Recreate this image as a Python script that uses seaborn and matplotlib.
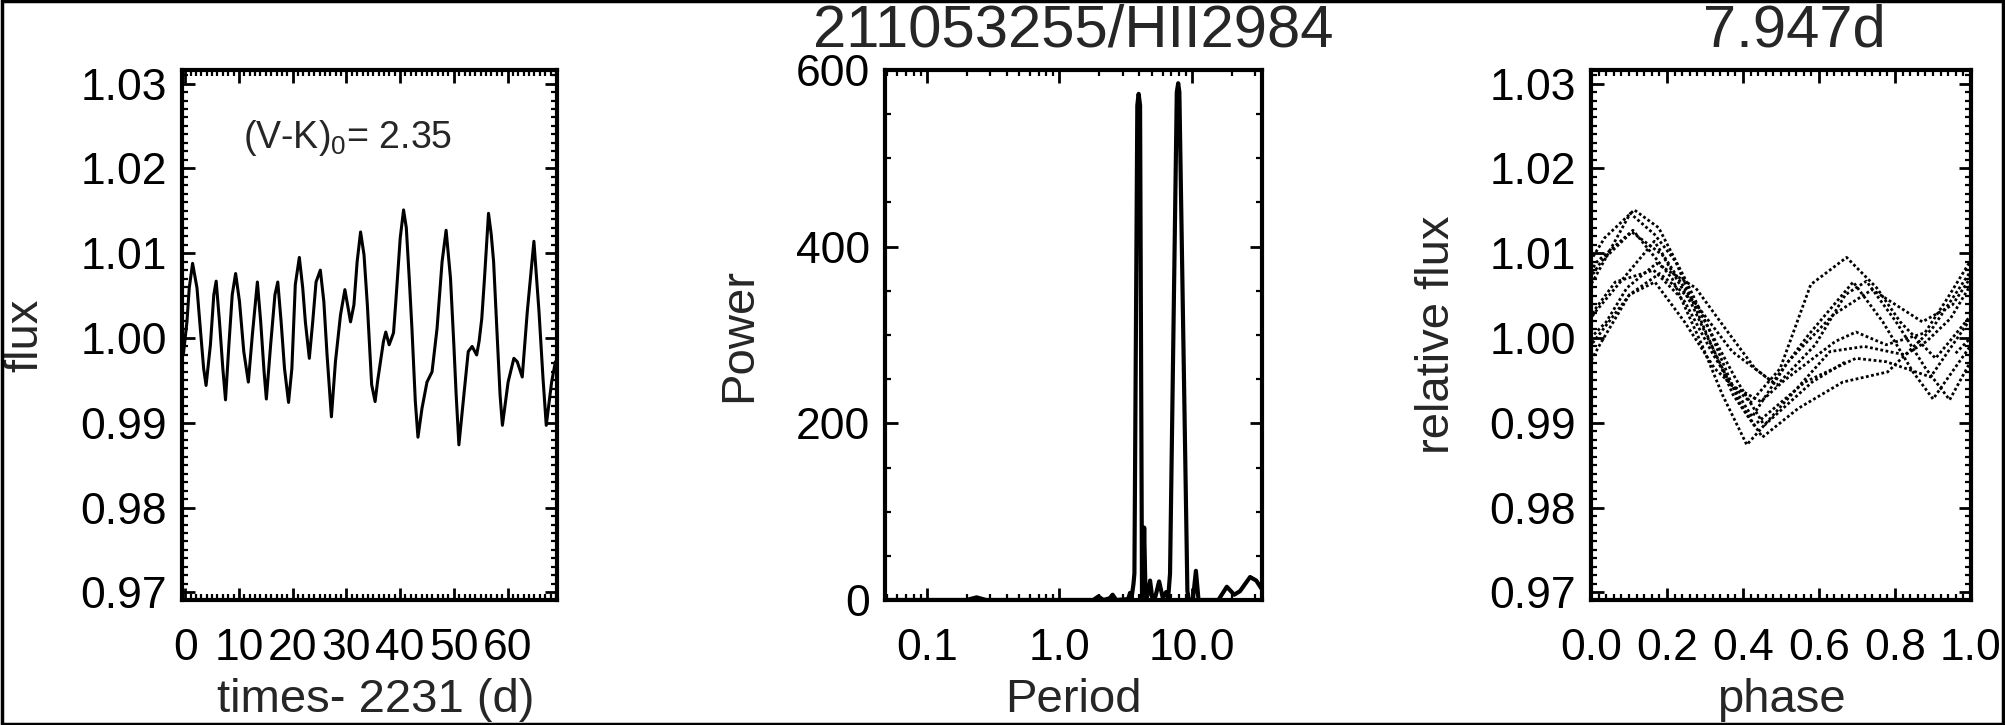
import numpy as np
import pandas as pd
import matplotlib
matplotlib.use("Agg")
import matplotlib.pyplot as plt
import seaborn as sns
from matplotlib.ticker import MultipleLocator, FixedLocator, LogLocator, NullFormatter, FormatStrFormatter
from matplotlib.patches import Rectangle

# ---------------- data ----------------
time_d = [-0.32, 0.32, 0.75, 1.37, 2.19, 2.81, 3.43, 3.88, 4.69, 5.32,
          5.76, 6.38, 7.0, 7.5, 8.13, 8.75, 9.38, 10.1, 10.9, 11.75,
          12.5, 13.43, 14.05, 14.68, 15.1, 15.9, 16.7, 17.23, 17.85, 18.48,
          19.23, 19.85, 20.49, 21.24, 21.87, 22.36, 23.1, 23.73, 24.35, 25.15,
          25.8, 26.4, 27.21, 27.96, 28.9, 29.72, 30.77, 31.4, 32.0, 32.64,
          33.28, 33.9, 34.7, 35.34, 35.83, 36.9, 37.33, 37.96, 38.77, 39.2,
          40.02, 40.64, 41.15, 41.7, 42.2, 42.83, 43.32, 44.07, 45.0, 45.94,
          46.87, 47.81, 48.56, 49.38, 50.0, 50.43, 50.94, 51.87, 52.68, 53.4,
          54.25, 54.7, 55.2, 55.7, 56.45, 56.96, 57.4, 58.0, 58.6, 59.04,
          60.1, 61.17, 61.8, 62.73, 63.67, 64.9, 65.85, 66.6, 67.2, 68.2,
          68.9]
flux = [0.9982, 1.0019, 1.0059, 1.0088, 1.0059, 1.0011, 0.9964, 0.9944, 0.9992, 1.0051,
        1.0067, 1.0019, 0.9964, 0.9927, 0.9992, 1.0051, 1.0076, 1.0043, 0.9984, 0.9948,
        1.0004, 1.0066, 1.0019, 0.9960, 0.9928, 0.9992, 1.0051, 1.0066, 1.0019, 0.9964,
        0.9924, 0.9964, 1.0063, 1.0095, 1.0059, 1.0019, 0.9976, 1.0019, 1.0066, 1.0080,
        1.0043, 0.9980, 0.9907, 0.9972, 1.0027, 1.0057, 1.0019, 1.0039, 1.0090, 1.0125,
        1.0098, 1.0039, 0.9945, 0.9925, 0.9950, 0.9996, 1.0007, 0.9992, 1.0006, 1.0043,
        1.0118, 1.0151, 1.0130, 1.0070, 1.0011, 0.9925, 0.9883, 0.9917, 0.9948, 0.9960,
        1.0011, 1.0090, 1.0127, 1.0070, 0.9992, 0.9933, 0.9874, 0.9933, 0.9984, 0.9990,
        0.9980, 0.9996, 1.0023, 1.0070, 1.0147, 1.0122, 1.0090, 1.0011, 0.9933, 0.9897,
        0.9948, 0.9976, 0.9972, 0.9954, 1.0031, 1.0114, 1.0031, 0.9952, 0.9897, 0.9948,
        0.9972]

period_d = [0.0485, 0.20, 0.238, 0.28, 1.80, 1.97, 2.15, 2.40, 2.52, 2.68,
            3.30, 3.41, 3.50, 3.62, 3.68, 3.87, 3.96, 4.06, 4.20, 4.28,
            4.36, 4.47, 4.62, 4.83, 5.02, 5.30, 5.65, 6.03, 6.38, 6.62,
            6.83, 7.68, 7.87, 8.03, 9.23, 9.50, 10.15, 10.70, 11.20, 15.8,
            18.3, 20.8, 23.0, 27.4, 30.5, 33.7]
power = [0, 0, 3, 0, 0, 4, 0, 2, 6, 0,
         1, 8, 2, 18, 30, 560, 573, 560, 0, 15,
         82, 0, 5, 22, 2, 4, 21, 2, 9, 3,
         30, 575, 585, 575, 10, 0, 0, 33, 0, 0,
         15, 6, 10, 26, 22, 12]

fold_period = 7.947
star_name = "211053255/HII2984"
color_index = 2.35

flux_ticks = [0.97, 0.98, 0.99, 1.00, 1.01, 1.02, 1.03]
time_ticks = [0, 10, 20, 30, 40, 50, 60]
power_ticks = [0, 200, 400, 600]
period_ticks = [0.1, 1.0, 10.0]
period_labels = ["0.1", "1.0", "10.0"]
phase_ticks = [0.0, 0.2, 0.4, 0.6, 0.8, 1.0]

# ---------------- style ----------------
sns.set_style("white")
plt.rcParams['font.family'] = ['Liberation Sans', 'DejaVu Sans']
plt.rcParams['mathtext.fontset'] = 'custom'
plt.rcParams['mathtext.rm'] = 'Liberation Sans'
plt.rcParams['mathtext.it'] = 'Liberation Sans:italic'
plt.rcParams['mathtext.bf'] = 'Liberation Sans:bold'

TICK_FS = 32
LABEL_FS = 34
TITLE_FS = 43

lc = pd.DataFrame({"time": time_d, "flux": flux})
pg = pd.DataFrame({"period": period_d, "power": power})

# phase fold: each cycle drawn as its own curve, including neighbouring points
# just outside [0, 1] so the curves reach the panel edges (clipped by xlim)
cyc_pos = lc["time"] / fold_period
pieces = []
for k in np.unique(np.floor(cyc_pos).astype(int)):
    sel = (cyc_pos >= k - 0.12) & (cyc_pos <= k + 1.12)
    sub = lc[sel].copy()
    sub["phase"] = cyc_pos[sel] - k
    sub["cycle"] = k
    pieces.append(sub)
ph = pd.concat(pieces, ignore_index=True)

W, H = 2005, 725
fig = plt.figure(figsize=(W / 100, H / 100), dpi=100)


def frac(x0, x1, y0, y1):
    return [x0 / W, 1 - y1 / H, (x1 - x0) / W, (y1 - y0) / H]


ax1 = fig.add_axes(frac(182, 557, 70, 600))
ax2 = fig.add_axes(frac(885, 1262, 70, 600))
ax3 = fig.add_axes(frac(1591, 1971, 70, 600))


def style_axis(ax):
    for s in ax.spines.values():
        s.set_linewidth(3)
        s.set_color("black")
    ax.tick_params(which="both", direction="in", top=True, right=True,
                   bottom=True, left=True, colors="black",
                   labelsize=TICK_FS)
    ax.tick_params(which="major", length=9, width=2)
    ax.tick_params(which="minor", length=4.5, width=1.6)
    ax.tick_params(axis="x", which="both", pad=20)
    ax.tick_params(axis="y", which="both", pad=11)


# Panel 1: light curve
sns.lineplot(data=lc, x="time", y="flux", ax=ax1, sort=False, estimator=None,
             color="black", lw=2.2)
ax1.set_xlim(-0.6, 69.2)
ax1.set_ylim(0.9691, 1.0316)
ax1.xaxis.set_major_locator(FixedLocator(time_ticks))
ax1.xaxis.set_minor_locator(MultipleLocator(1))
ax1.yaxis.set_major_locator(FixedLocator(flux_ticks))
ax1.yaxis.set_minor_locator(MultipleLocator(0.001))
ax1.yaxis.set_major_formatter(FormatStrFormatter("%.2f"))
style_axis(ax1)
ax1.set_xlabel("times- 2231 (d)", fontsize=LABEL_FS)
ax1.set_ylabel("flux", fontsize=LABEL_FS)
ax1.text(0.163, 0.853, r"(V-K)$_0$= %.2f" % color_index, transform=ax1.transAxes,
         fontsize=27, ha="left", va="baseline")

# Panel 2: periodogram
sns.lineplot(data=pg, x="period", y="power", ax=ax2, sort=False, estimator=None,
             color="black", lw=3.0)
ax2.set_xscale("log")
ax2.set_xlim(0.0485, 33.7)
ax2.set_ylim(0, 600)
ax2.xaxis.set_major_locator(FixedLocator(period_ticks))
ax2.xaxis.set_minor_locator(LogLocator(base=10, subs=np.arange(2, 10)))
ax2.xaxis.set_minor_formatter(NullFormatter())
ax2.set_xticklabels(period_labels)
ax2.yaxis.set_major_locator(FixedLocator(power_ticks))
ax2.yaxis.set_minor_locator(MultipleLocator(50))
style_axis(ax2)
ax2.set_xlabel("Period", fontsize=LABEL_FS)
ax2.set_ylabel("Power", fontsize=LABEL_FS)
ax2.set_title(star_name, fontsize=TITLE_FS, pad=17)

# Panel 3: phase-folded
sns.lineplot(data=ph, x="phase", y="flux", units="cycle", ax=ax3, sort=False,
             estimator=None, color="black", lw=2.0, linestyle=(0, (1, 0.9)))
ax3.set_xlim(0, 1.0)
ax3.set_ylim(0.9691, 1.0316)
ax3.xaxis.set_major_locator(FixedLocator(phase_ticks))
ax3.xaxis.set_minor_locator(MultipleLocator(0.02))
ax3.xaxis.set_major_formatter(FormatStrFormatter("%.1f"))
ax3.yaxis.set_major_locator(FixedLocator(flux_ticks))
ax3.yaxis.set_minor_locator(MultipleLocator(0.001))
ax3.yaxis.set_major_formatter(FormatStrFormatter("%.2f"))
style_axis(ax3)
ax3.set_xlabel("phase", fontsize=LABEL_FS)
ax3.set_ylabel("relative flux", fontsize=LABEL_FS)
ax3.set_title("%.3fd" % fold_period, fontsize=TITLE_FS, pad=17, x=0.535)

# label placement (axes fraction)
for ax, x_lab, y_lab in [(ax1, 0.517, -0.419), (ax2, 0.5, -0.387), (ax3, 0.5, -0.405)]:
    ax.xaxis.label.set_va("baseline")
    ax.xaxis.set_label_coords(x_lab, -0.211)
    ax.yaxis.label.set_va("center")
    ax.yaxis.set_label_coords(y_lab, 0.5)

# outer frame
fig.patches.append(Rectangle((0.001, 0.002), 0.998, 0.996, transform=fig.transFigure,
                             fill=False, edgecolor="black", linewidth=2.5))

fig.savefig("out.png", dpi=100, facecolor="white")
